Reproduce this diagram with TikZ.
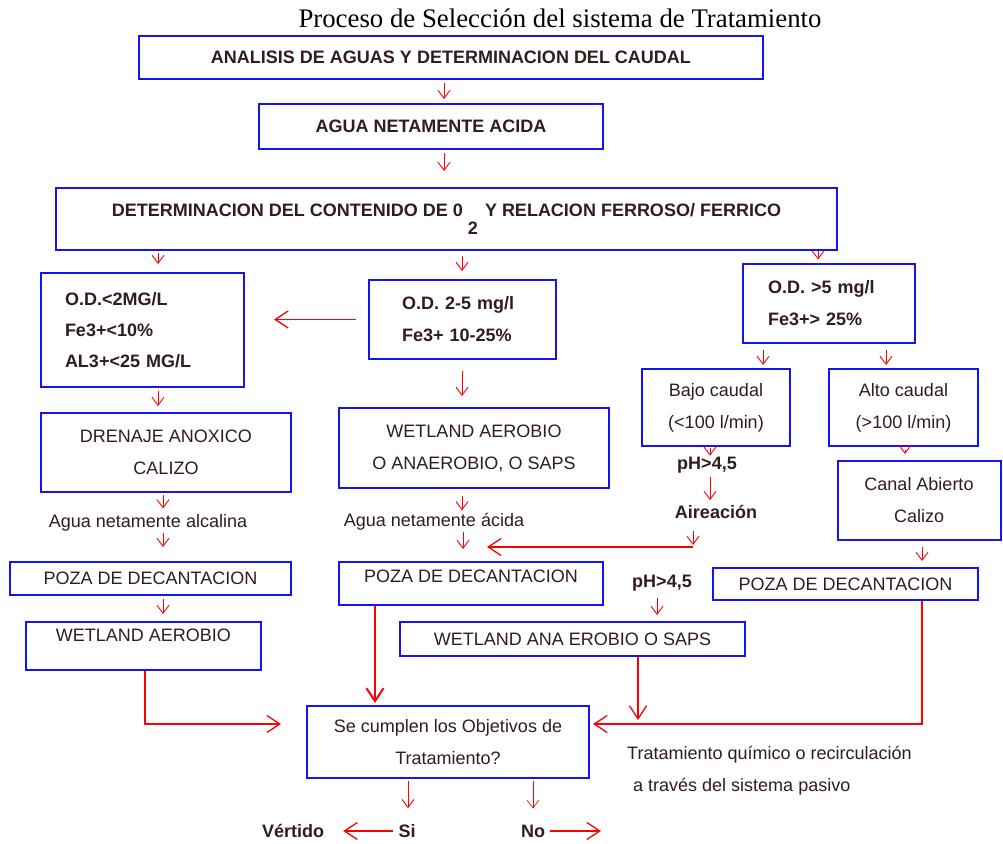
\documentclass[tikz,border=0pt]{standalone}
\usepackage{fontspec}
\setmainfont{Liberation Serif}
\newfontfamily\arial{Liberation Sans}
\usetikzlibrary{arrows.meta}
\definecolor{azul}{RGB}{20,20,240}
\definecolor{marron}{RGB}{50,28,28}
\definecolor{rojo}{RGB}{255,0,0}
\tikzset{
    caja/.style={draw=azul, line width=2pt, inner sep=0pt, text=marron,
        font=\arial\fontsize{18}{32}\selectfont},
    cajab/.style={caja, font=\arial\bfseries\fontsize{18}{32}\selectfont},
    txt/.style={inner sep=1pt, text=marron, font=\arial\fontsize{18}{32}\selectfont},
    txtb/.style={txt, font=\arial\bfseries\fontsize{18}{32}\selectfont},
    subir/.style={text height=13pt, text depth=#1},
    flecha/.style={-{Straight Barb[length=8pt,width=12pt]}, draw=rojo, line width=0.9pt},
    flechag/.style={-{Straight Barb[length=13pt,width=17pt]}, draw=rojo, line width=1.3pt},
}

\begin{document}
\begin{tikzpicture}[x=1pt, y=-1pt]
    \path[fill=white, use as bounding box] (0,0) rectangle (1003,843);
    \node[font=\fontsize{26.8}{30}\selectfont] (tit) at (560,18) {Proceso de Selección del sistema de Tratamiento};

    \node[cajab, minimum width=624pt, minimum height=43pt] (ana) at (451,57.5) {ANALISIS DE AGUAS Y DETERMINACION DEL CAUDAL};
    \node[cajab, minimum width=344pt, minimum height=45pt] (agua) at (431,126.5) {AGUA NETAMENTE ACIDA};
    \node[cajab, minimum width=781pt, minimum height=62pt] (det) at (446.5,219)
        {DETERMINACION DEL CONTENIDO DE 0\hspace{5pt}\raisebox{-18pt}{2}\hspace{2pt} Y RELACION FERROSO/ FERRICO};

    \node[cajab, minimum width=203pt, minimum height=114pt, text width=155pt, align=left,
        font=\arial\bfseries\fontsize{18}{31}\selectfont] (od1) at (142.5,330)
        {O.D.<2MG/L\\Fe3+<10\%\\AL3+<25 MG/L};
    \node[cajab, minimum width=187pt, minimum height=79pt, text width=121pt, align=left] (od2) at (462.5,319.5)
        {O.D. 2-5 mg/l\\Fe3+ 10-25\%};
    \node[cajab, minimum width=172pt, minimum height=79pt, text width=122pt, align=left] (od3) at (829,303)
        {O.D. >5 mg/l\\Fe3+> 25\%};

    \node[caja, minimum width=148pt, minimum height=77pt, align=center] (bajo) at (716,407.5) {Bajo caudal\\(<100 l/min)};
    \node[caja, minimum width=149pt, minimum height=77pt, align=center] (alto) at (903.5,407.5) {Alto caudal\\(>100 l/min)};
    \node[caja, minimum width=163pt, minimum height=79pt, align=center] (canal) at (919,500.5) {Canal Abierto\\Calizo};
    \node[caja, minimum width=250pt, minimum height=79pt, align=center] (dren) at (166,452.5) {DRENAJE ANOXICO\\CALIZO};
    \node[caja, minimum width=270pt, minimum height=80pt, align=center] (wetm) at (474,448) {WETLAND AEROBIO\\O ANAEROBIO, O SAPS};

    \node[caja, minimum width=281pt, minimum height=33pt] (pozal) at (150.5,578.5) {POZA DE DECANTACION};
    \node[caja, minimum width=264pt, minimum height=43pt, subir=15pt] (pozam) at (471,583.5) {POZA DE DECANTACION};
    \node[caja, minimum width=265pt, minimum height=32pt] (pozar) at (845.5,584) {POZA DE DECANTACION};
    \node[caja, minimum width=235pt, minimum height=48pt, subir=22pt] (wetl) at (143.5,646) {WETLAND AEROBIO};
    \node[caja, minimum width=345pt, minimum height=34pt] (weta) at (572.5,639) {WETLAND ANA EROBIO O SAPS};
    \node[caja, minimum width=282pt, minimum height=72pt, align=center] (obj) at (448,742) {Se cumplen los Objetivos de\\Tratamiento?};

    \node[txtb] (ph1) at (707,465) {pH>4,5};
    \node[txtb] (aire) at (716,512) {Aireación};
    \node[txt] (alc) at (148,523) {Agua netamente alcalina};
    \node[txt] (acid) at (434,522) {Agua netamente ácida};
    \node[txtb] (ph2) at (662,583) {pH>4,5};
    \node[txt, anchor=west, align=left] (quim) at (626,771) {Tratamiento químico o recirculación\\\hspace{6pt}a través del sistema pasivo};
    \node[txtb] (vert) at (293,831) {Vértido};
    \node[txtb] (si) at (407,831) {Si};
    \node[txtb] (no) at (533,831) {No};

    \coordinate (cruce) at (693,547);
    \coordinate (llega) at (487,547);
    \coordinate (juntal) at ([yshift=18pt]obj.west);
    \coordinate (junta) at ([yshift=18pt]obj.east);
    \coordinate (fin) at (601,831);

    \draw[flecha, shorten <=3pt, shorten >=4pt] (ana.south -| 444,0) -- (agua.north -| 444,0);
    \draw[flecha, shorten <=3pt, shorten >=16pt] (agua.south -| 444,0) -- (det.north -| 444,0);
    \draw[flecha, shorten <=2pt, shorten >=8pt] (det.south -| 158,0) -- (od1.north -| 158,0);
    \draw[flecha, shorten <=5pt, shorten >=8pt] (det.south -| 462,0) -- (od2.north -| 462,0);
    \draw[flecha, shorten >=3pt] (det.south -| 818,0) -- (od3.north -| 818,0);
    \draw[flechag, shorten <=12pt, shorten >=29pt] (od2.west) -- (od2.west -| od1.east);
    \draw[flecha, shorten <=6pt, shorten >=3pt] (od3.south -| 763,0) -- (bajo.north -| 763,0);
    \draw[flecha, shorten <=6pt, shorten >=3pt] (od3.south -| 886,0) -- (alto.north -| 886,0);
    \draw[flecha, shorten <=1pt] (bajo.south -| 710,0) -- (ph1.north -| 710,0);
    \draw[flecha, shorten <=3pt, shorten >=4pt] (ph1.south -| 710,0) -- (aire.north -| 710,0);
    \draw[flecha, shorten <=11pt, shorten >=2pt] (aire.south -| cruce) -- (cruce);
    \draw[flechag] (cruce) -- (llega);
    \draw[flecha, shorten <=3pt, shorten >=6pt] (alto.south -| 905,0) -- (canal.north -| 905,0);

    \draw[flecha, shorten <=3pt, shorten >=6pt] (od1.south -| 158,0) -- (dren.north -| 158,0);
    \draw[flecha, shorten <=2pt, shorten >=5pt] (dren.south -| 163,0) -- (alc.north -| 163,0);
    \draw[flecha, shorten <=0pt, shorten >=14pt] (alc.south -| 163,0) -- (pozal.north -| 163,0);
    \draw[flecha, shorten <=3pt, shorten >=7pt] (pozal.south -| 163,0) -- (wetl.north -| 163,0);
    \draw[flechag, shorten >=25pt] (wetl.south -| 145,0) |- (juntal);

    \draw[flecha, shorten <=11pt, shorten >=11pt] (od2.south -| 462,0) -- (wetm.north -| 462,0);
    \draw[flecha, shorten <=7pt, shorten >=2pt] (wetm.south -| 462,0) -- (acid.north -| 462,0);
    \draw[flecha, shorten >=12pt] (acid.south -| 463,0) -- (pozam.north -| 463,0);
    \draw[flechag, line width=2pt, shorten >=2pt] (pozam.south -| 375,0) -- (obj.north -| 375,0);
    \draw[flecha, shorten <=6pt, shorten >=6pt] (ph2.south -| 657,0) -- (weta.north -| 657,0);
    \draw[flechag, shorten >=4pt] (weta.south -| 638,0) -- (junta -| 638,0);

    \draw[flecha, shorten <=6pt, shorten >=6pt] (canal.south -| 922,0) -- (pozar.north -| 922,0);
    \draw[flechag, shorten >=3pt] (pozar.south -| 922,0) |- (junta);

    \draw[flecha, shorten <=2pt, shorten >=15pt] (obj.south -| 408,0) -- (si.north -| 408,0);
    \draw[flecha, line width=0.6pt, shorten <=2pt, shorten >=15pt] (obj.south -| 533,0) -- (no.north -| 533,0);
    \draw[flechag, shorten <=4pt, shorten >=18pt] (si.west) -- (vert.east);
    \draw[flechag, shorten <=4pt] (no.east) -- (fin);
\end{tikzpicture}
\end{document}
